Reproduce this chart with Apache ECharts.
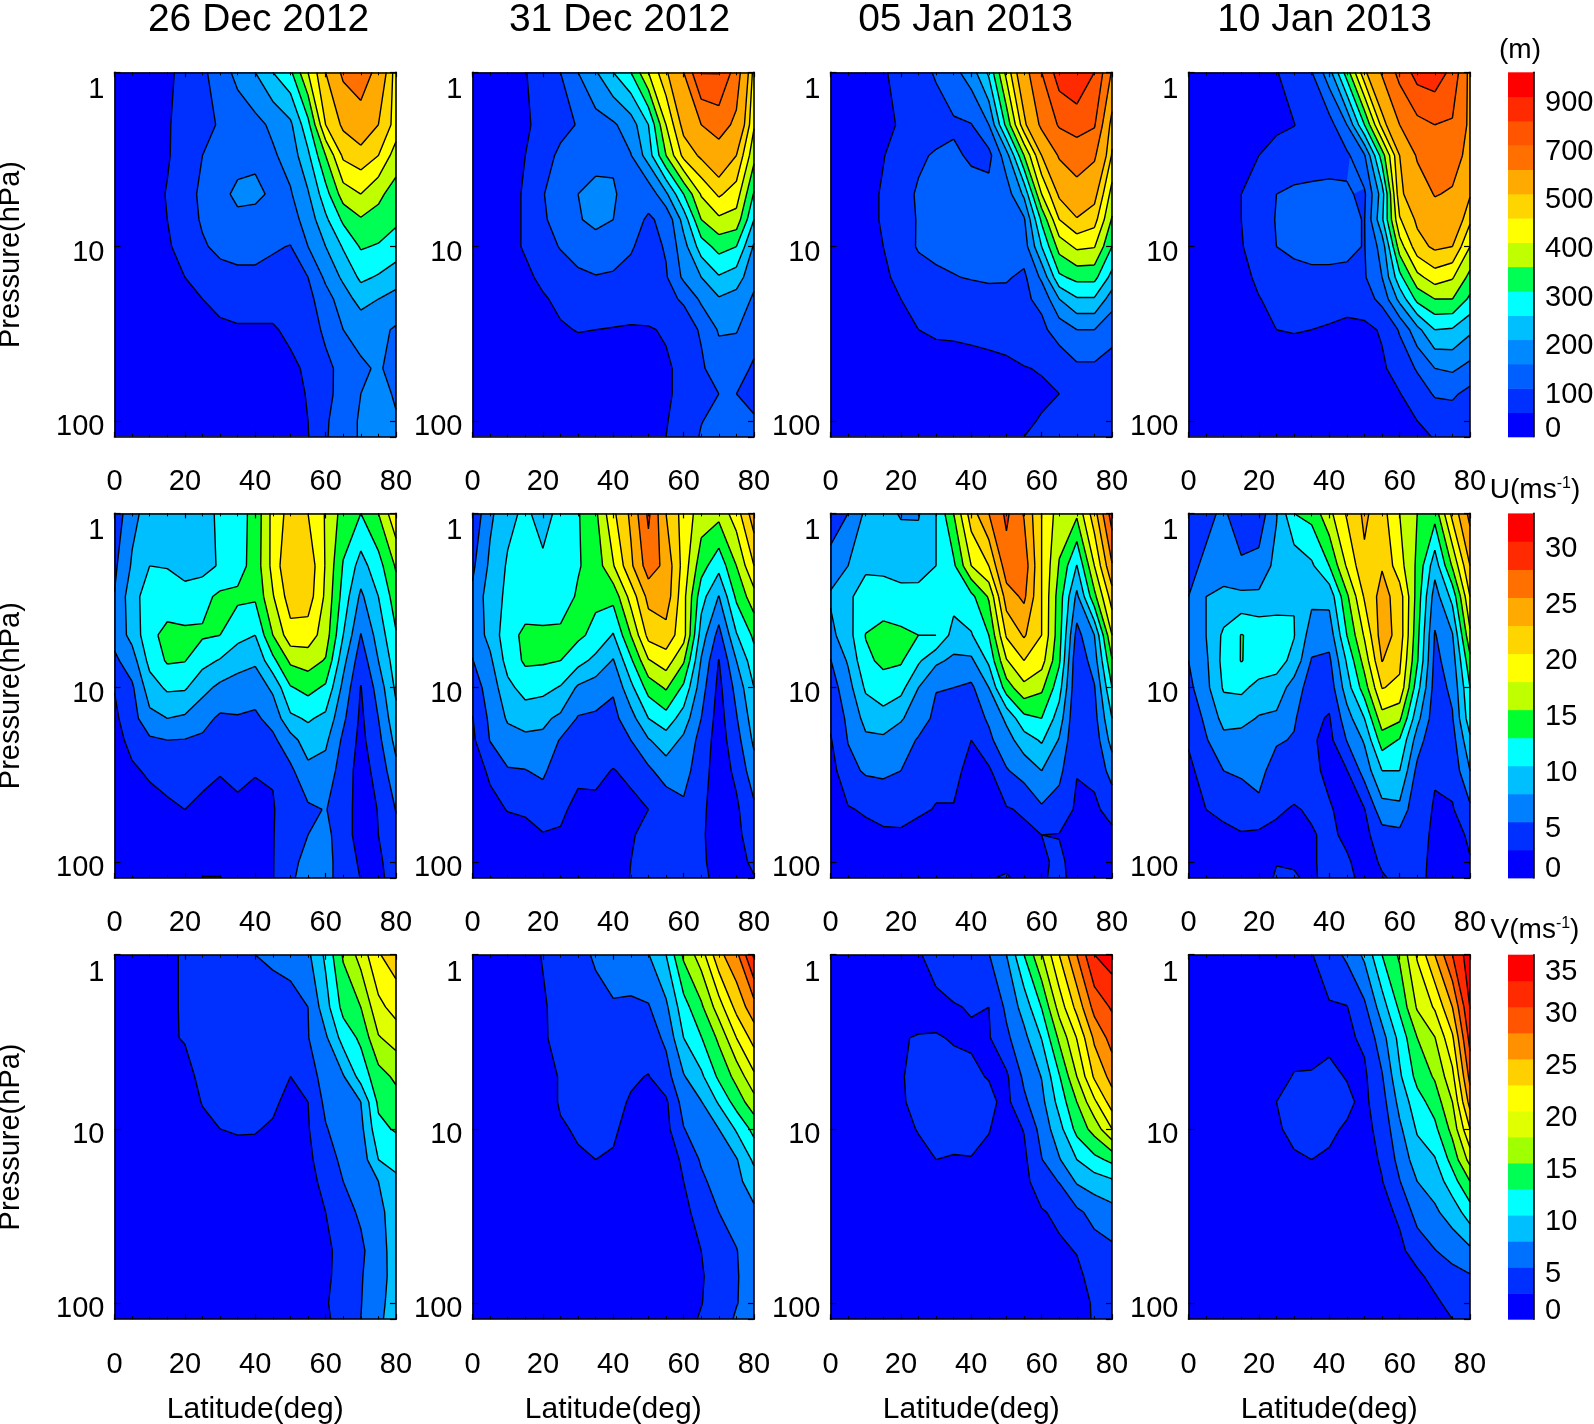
<!DOCTYPE html>
<html><head><meta charset="utf-8"><style>html,body{margin:0;padding:0;background:#fff}#c{width:1594px;height:1424px}</style>
<script src="https://cdn.jsdelivr.net/npm/echarts@6/dist/echarts.min.js"></script></head><body><div id="c"></div>
<script>
const latitudes=[0,5,10,15,20,25,30,35,40,45,50,55,60,65,70,75,80];
const pressures=[1,2,3,5,7,10,15,20,30,50,70,100,123.5];
const dates=['26 Dec 2012','31 Dec 2012','05 Jan 2013','10 Jan 2013'];
const heightLevels=[0,50,100,150,200,250,300,350,400,450,500,600,700,800,900];
const windULevels=[0,2.5,5,7.5,10,12.5,15,17.5,20,22.5,25,27.5,30];
const windVLevels=[0,2.5,5,7.5,10,12.5,15,17.5,20,22.5,25,27.5,30,32.5];
const heightColors=['#0000ff','#0030ff','#0060ff','#0088ff','#00bfff','#00ffff','#00ff55','#c0ff00','#ffff00','#ffd500','#ffaa00','#ff7000','#ff5500','#ff2a00','#ff0000'];
const windUColors=['#0000ff','#0030ff','#0080ff','#00bfff','#00ffff','#00ff30','#c0ff00','#ffff00','#ffd500','#ffaa00','#ff7000','#ff2a00','#ff0000'];
const windVColors=['#0000ff','#0030ff','#0070ff','#00bfff','#00ffff','#00ff55','#a0ff00','#e0ff00','#ffff00','#ffd000','#ff9000','#ff5500','#ff2a00','#ff0000'];
const heightTicks=[[0,'0'],[2,'100'],[4,'200'],[6,'300'],[8,'400'],[10,'500'],[12,'700'],[14,'900']];
const windUTicks=[[0,'0'],[2,'5'],[4,'10'],[6,'15'],[8,'20'],[10,'25'],[12,'30']];
const windVTicks=[[0,'0'],[2,'5'],[4,'10'],[6,'15'],[8,'20'],[10,'25'],[12,'30'],[14,'35']];

// rows: one per pressure, columns: one per latitude
const height26Dec=[
[15,20,25,40,65,90,125,165,200,250,290,400,500,620,670,560,425],
[15,20,30,45,70,85,105,120,135,160,190,285,450,510,540,500,430],
[15,20,30,45,75,100,110,125,138,143,170,240,350,460,480,450,375],
[15,20,30,53,80,110,130,165,163,140,145,195,280,375,400,360,330],
[15,20,30,50,80,105,125,135,130,120,130,170,240,310,345,335,310],
[15,20,30,45,65,95,110,115,115,105,98,150,200,255,305,295,275],
[10,15,25,35,50,70,85,90,90,85,80,100,160,210,260,245,225],
[5,10,15,25,35,50,65,70,70,70,70,85,130,175,220,200,180],
[5,5,10,15,25,35,40,45,45,45,60,75,110,150,165,160,145],
[3,3,5,5,10,15,20,25,28,33,40,58,88,115,143,155,135],
[3,3,3,5,8,10,15,20,23,28,35,53,85,120,150,170,143],
[3,3,3,5,5,10,10,15,20,25,30,50,93,130,155,165,155],
[3,3,3,3,5,8,10,13,18,23,30,48,95,130,155,165,160]];
const height31Dec=[
[15,20,30,48,70,100,150,195,250,300,400,490,600,805,805,650,430],
[15,20,30,43,65,85,103,130,143,175,250,400,520,600,640,580,405],
[15,20,30,50,80,110,120,135,143,148,225,350,465,510,555,500,365],
[15,20,35,55,98,120,150,163,155,130,115,190,300,405,458,425,295],
[15,20,35,55,95,115,145,165,150,115,95,110,220,350,390,380,250],
[15,20,35,55,80,103,115,125,120,105,80,105,180,275,318,300,193],
[10,15,25,40,60,75,93,98,95,85,75,95,160,200,245,225,163],
[5,10,20,30,45,60,70,73,73,75,78,90,105,160,195,180,143],
[5,8,15,23,35,45,52,50,48,45,46,55,80,105,155,153,120],
[3,3,5,8,13,20,25,28,30,33,35,43,63,93,125,120,93],
[3,3,3,5,8,10,13,15,18,23,30,43,63,83,100,100,85],
[3,3,3,3,5,8,10,13,15,20,30,48,65,98,115,120,105],
[3,3,3,3,5,5,8,10,13,20,35,50,70,105,125,125,110]];
const height05Jan=[
[15,20,30,45,65,83,105,135,175,260,415,560,700,850,900,800,590],
[15,20,30,43,53,65,80,93,98,150,315,483,620,710,735,710,470],
[15,20,30,48,70,93,105,108,93,85,178,350,500,610,650,615,445],
[15,20,35,55,85,105,115,118,118,118,125,210,400,510,560,520,380],
[15,20,35,55,83,103,113,118,118,118,120,143,310,450,495,470,345],
[15,20,33,50,75,105,110,115,115,110,110,125,250,370,410,403,300],
[10,15,25,43,60,78,93,98,103,108,105,90,160,290,315,315,233],
[5,10,20,35,50,63,73,75,78,80,85,93,110,200,245,245,175],
[5,8,15,23,38,50,55,55,58,63,70,80,90,120,150,150,113],
[5,5,10,15,23,30,35,38,38,38,40,48,53,70,90,90,85],
[3,5,5,10,15,20,23,25,25,25,30,35,43,50,70,75,73],
[3,3,5,8,10,13,15,20,20,23,25,43,53,60,68,70,65],
[3,3,3,5,8,10,13,15,15,20,43,50,55,60,65,68,63]];
const height10Jan=[
[10,15,20,28,38,48,70,98,180,325,485,610,730,840,860,770,570],
[8,13,18,25,35,43,49,65,80,150,300,468,600,670,700,690,580],
[8,13,20,33,50,63,68,73,80,90,145,325,500,610,650,640,570],
[10,15,25,50,75,100,110,113,113,105,92,225,485,550,605,590,505],
[10,15,25,50,73,103,110,115,115,110,98,240,445,510,560,560,460],
[10,15,25,48,65,100,108,110,110,110,98,170,375,480,510,500,400],
[5,10,18,35,60,75,88,93,93,90,95,150,284,385,425,405,335],
[5,8,15,25,48,63,75,80,80,75,78,115,215,315,350,350,290],
[3,5,10,18,35,50,53,50,43,33,38,55,105,185,250,245,210],
[3,3,5,8,13,20,23,23,20,18,20,43,70,105,150,158,135],
[3,3,3,5,8,10,13,13,13,13,15,30,48,75,105,108,85],
[3,3,3,3,5,5,8,8,8,10,13,20,35,50,70,75,65],
[3,3,3,3,3,5,5,5,8,8,10,15,25,38,53,58,60]];
const windU26Dec=[
[3.3,6.8,8.5,8.3,8,9,10.5,11.5,13.3,18.3,21,20,17.3,14,12.5,15,19.5],
[4.5,7.8,10,9.9,9,9,10.3,11.5,13.5,18.3,22.5,21.8,17.3,12.3,9,11.5,15.3],
[5.1,9,11.3,11,11,11.8,13,13,12.9,17.3,21.3,21.3,17,11.5,7,10,13.8],
[5.8,8.3,11.8,13.3,13,12.8,12.5,10.8,10,15,19,18.8,16.3,10,4.9,8.5,12.3],
[4.5,6.3,10.8,12.8,12.6,10.8,9.8,8.4,7.9,11.8,15.5,16.1,14.8,8.3,3.5,7.5,11.3],
[2.6,4.6,8.8,10.4,10.3,8.3,6.9,6.5,6,8,12.3,13.3,12.1,6.8,2.4,6,10.5],
[2,4,6.8,7.5,7.1,5.8,4.6,4.8,4.6,5.8,9.5,10.3,9.4,5.5,2,5,9.3],
[1.5,3.3,4.6,5,4.9,4.6,4.1,4.1,3.8,4.5,6.5,8.8,8,4.5,1.8,4.3,8.3],
[1,2.1,2.9,3.5,3.5,3.1,2.6,3,2.6,2.6,4.5,6.8,6.5,3.8,1.5,3.3,6.8],
[.5,1,1.5,2,2.5,2,1.9,2.1,2,2.4,3.3,4.6,5.1,3.8,1.3,2.6,5.1],
[.4,.8,1,1.3,1.8,1.5,1.5,1.8,1.5,2.4,3.8,5,5.5,4,1.1,2.5,4.5],
[.3,.6,.8,1,1.3,1.5,1.5,1.5,1.3,2.4,4.3,5.8,5.5,4.3,2,2,4],
[.3,.5,.8,.9,1,2.6,2.6,1.4,1.1,2.4,4.5,6.3,5.5,4.3,2.4,1.8,3.8]];
// rows: one per latitude, columns: one per pressure
const windU31Dec=[
[3,4.5,5.5,5.8,4.9,3.8,2.4,2,1.3,.8,.5,.3,.3],
[7,8,8.8,8.3,7,6,5.5,5.1,2.9,1.8,1,.8,.5],
[9.3,10.3,10.5,11.5,11,9.3,7.8,6.5,4.8,2.6,1.5,1,.8],
[10.5,10.8,11,13.1,12.9,11,8.5,6.9,4.9,2.8,1.8,1.3,1],
[9,10.5,11.3,12.9,12.8,10.8,8,7,5.5,3.3,2.4,1.8,1.5],
[10.8,10.8,11.3,13,12.5,9.8,7,4.8,3.3,2.9,2.3,2.4,2.3],
[12.3,12.3,12.8,13,10.9,7.1,4.8,4.3,3,1.9,1.3,1.1,1.8],
[14.5,13.5,13,11.8,9.3,6.3,4.6,3.8,3,2,1.5,1.1,1],
[19.5,17.3,13.3,9.8,7.3,5.3,4.3,3.6,2.4,1.5,1,.8,1.3],
[23,22,18.5,15,12,9.3,6.5,5,3,1.9,2.4,2.5,2.6],
[28,26.3,23.3,20.8,17.3,13.5,10,7.3,4.5,2.5,2.8,2.6,2.6],
[22.5,24.3,24,21.5,18.8,15.3,11.5,8.8,6.3,3.1,2.8,2.8,2.8],
[19,19,18.3,18.5,15.3,12,8.8,7,6,4.5,3.8,3,2.9],
[16.3,13.5,11,8.8,7.3,6.1,5,4.1,3.5,3,2.8,2.8,2.9],
[15.8,10.8,7.4,4.1,2.4,1.8,1.4,1.3,1.3,1.3,1.5,1.8,2],
[18.8,15,13,9.8,7.5,5.8,4.8,4,3,2.1,1.9,1.8,1.8],
[24,20,16.5,13,11.5,10,8.8,8,6.5,4.5,3.8,2.9,2.4]];
const windU05Jan=[
[3,6.3,7.8,6.8,4.9,3.8,3,2.3,1.5,1,.5,.3,.3],
[5,7.5,9.8,9,7.8,6.5,5.5,5.1,4.3,2.3,1.4,.8,.5],
[8,9.8,10.5,12.6,12,10.4,8.3,7,5.3,2.8,1.8,1,.8],
[8.3,9.6,10.8,13.5,13,11.5,9,7,5.4,3.5,2,1.3,1],
[7.3,9,10.8,13,12.8,10.8,7.8,6,5,3,2.3,1.5,1],
[7.3,8.8,11,12.5,10.4,7.5,6,4.8,3.8,2.8,1.8,1.3,1],
[10,10,11,12.5,8,5.1,4.5,3.8,3,2.4,1.8,1.3,1],
[15,12,11,9,7,5,4.1,3.5,3,2.4,1.8,1.3,1],
[21.3,17.5,11.8,9.8,7,4.5,3.9,2.5,1.9,1.3,.9,.8,.8],
[25,20,15.3,12.5,10.5,7.5,5.3,4.5,2.1,1.5,1.3,1.1,2.3],
[28,26.5,23.8,20.3,17.3,13.8,8,6.5,4.8,2.3,1.6,1.8,2.8],
[24.8,26.5,25.5,22.8,20,16.8,11.8,8.8,6,2.8,2,1.5,1.5],
[20,20,20,20,18.5,15.5,12.5,10.3,7.5,4.6,2.5,2.1,2.1],
[16.3,14.8,13.8,13.5,12.9,11,8.8,7.3,5.6,4,2.4,3,3.3],
[15.5,9.9,6.9,4.1,2.9,2.8,2.6,2.6,2.6,2.1,1.8,1.5,1.3],
[21.5,17.5,14.3,7.5,6.3,4.8,4.1,3.5,3,2.1,1.5,1.3,1.3],
[28.8,24.8,21.3,17.5,14.8,12.5,10,8.5,6,3.3,2,1.3,1.1]];
const windU10Jan=[
[2.8,4.3,5,6,5,4.3,3.3,2.8,1.8,1,.5,.3,.1],
[4.3,5.5,7.5,7.5,7.1,6.8,5.5,4.8,3.8,2.5,1.5,.8,.5],
[5.5,6.5,8,10.5,10.8,10.3,8.3,6.8,5,3,2,1.1,.8],
[3,5.5,8,12.6,12.6,10.5,8.3,6.5,5.3,3.8,2.3,1.4,1],
[3.5,5.8,8,11.8,11.5,9.3,7.3,6.5,5.8,4.4,2,1.5,1.3],
[7.3,8.3,8.8,11.3,11,9,7,5.3,3.8,2.8,2,2.4,2.8],
[12.5,8.3,9.9,10.1,9.3,6.3,5.3,4.8,3.8,2.3,1.5,2.4,2.6],
[13.3,9.6,8.1,6.3,4.8,3.8,3,2.8,3,2.8,2.3,2.3,2.3],
[16.8,12.5,8.3,6,4.5,3.5,2.3,1.8,2,2.7,3,3,2.9],
[20.3,17.8,14.5,12.5,10.3,8.8,6.4,5.1,2.4,1.8,2,2.8,3],
[23,22,20.3,17.8,16,13.8,10,7.8,6,2.4,1.8,1.5,1.9],
[21,22.3,23.5,23.8,22.6,20.1,16.5,13.8,10,6.5,4,2.8,2.3],
[17.5,18.5,21.3,21.5,20.5,19.5,15.5,12.3,10,6.8,4.3,3.3,3],
[15,14.5,14,13.3,12.8,11,8.3,6.3,4.3,3,3.3,3.1,3],
[13.5,8.5,6.3,4.8,4.3,3.9,3.5,2.8,2.6,2.4,2.1,2,2],
[20.8,15.3,10.8,7.3,6.3,5.5,4.8,4,3.3,2.3,1.8,1.3,1],
[25.8,22.5,20,17,14.3,12.5,11.5,9.5,7.5,4.5,2.8,2.4,2]];
const windV26Dec=[
[.8,.8,.8,.8,.8,.5,.5,.5,.3,.3,.3,.3,.3],
[1,1,1,1,.8,.8,.5,.5,.3,.3,.3,.3,.3],
[1.3,1.3,1.3,1.3,1,.8,.8,.5,.3,.3,.3,.3,.3],
[2,2,2.3,1.5,1.3,1,.8,.6,.5,.3,.3,.3,.3],
[2.8,2.8,2.6,2,1.5,1.3,1,.8,.5,.3,.3,.3,.3],
[3.5,3.3,3.1,2.9,2.6,2,1.5,1.3,.8,.5,.3,.3,.3],
[3.8,3.3,3.3,3.3,3,2.5,2,1.5,1,.8,.5,.3,.3],
[4,3.5,3.5,3.5,3.1,2.6,2.1,1.6,1,.8,.5,.3,.3],
[5,3.8,3.8,3.5,3.3,2.6,2,1.5,1,.8,.5,.3,.3],
[5.5,3.8,3.5,3.3,2.8,2.3,1.8,1.3,.8,.5,.4,.3,.3],
[6,4,3.8,2.5,2,1.5,1.3,1,.8,.5,.4,.3,.3],
[7,5,4.9,3.5,2.5,2.3,1.9,1.6,1.3,1,.8,.6,.6],
[10.5,9,7.1,6.3,5.6,4.8,4,3.3,2.5,2,2.1,2.3,2.1],
[15.3,13.3,11,7.3,6.8,6.3,5.5,5,4.3,3.3,3.3,3.5,3.5],
[18.5,15,13,11,7.5,6.8,6,5.5,5.3,4.6,4.8,4.9,5],
[22.3,19.3,17.3,14,13,11.8,10,7.5,6.5,6.3,6.5,7,7.3],
[23.8,21,18.5,15.5,14,12.8,10.3,9.8,9.3,8.8,8.5,8.3,8]];
const windV31Dec=[
[.8,.8,.8,.8,.8,.5,.5,.5,.3,.3,.3,.3,.3],
[1,1,1,1,.8,.8,.5,.5,.3,.3,.3,.3,.3],
[1.3,1.3,1.3,1.3,1,.8,.8,.5,.3,.3,.3,.3,.3],
[1.8,1.8,1.8,1.5,1.3,1,.8,.6,.5,.3,.3,.3,.3],
[2.6,2.3,2.3,2,2,1.8,1.3,1,.5,.3,.3,.3,.3],
[3.5,3.1,3,2.6,2.6,2.4,2,1.5,1,.8,.5,.3,.3],
[4.3,3.8,3.5,3.3,3,2.6,2.4,1.8,1.3,.8,.5,.3,.3],
[5.3,4.3,4,3.5,3.3,2.9,2.5,2,1.3,.8,.5,.3,.3],
[6,4.8,4.1,3.5,3.1,2.8,2.3,1.8,1.3,.8,.5,.3,.3],
[6.8,4.5,3.8,2.8,2.3,1.8,1.3,1,.8,.5,.4,.3,.3],
[7.4,4.8,3.8,2.4,1.8,1.3,1,.8,.5,.5,.4,.3,.3],
[10,7,5.5,4,2.1,1.8,1.3,1,.8,.5,.5,.5,.5],
[15.5,11.5,10,7.3,6,4.9,2.9,2.5,1.9,1.5,1.4,1.4,1.5],
[18.8,14.5,12.4,9.5,7.4,6.3,5.3,4.5,3.4,2.5,2.3,2.4,2.8],
[24.3,18.8,15.5,13,10.3,7.5,6.5,6,5,3.8,3.5,3.8,3.8],
[26.8,23.3,20,15.8,13.6,10.3,7.3,6.8,6,4.9,4.8,4.9,5.3],
[33,26.5,23.5,19.5,16.5,13.3,10.5,8.8,7,6.5,6.3,6,6]];
const windV05Jan=[
[.5,.5,.5,.5,.5,.5,.3,.3,.3,.3,.3,.3,.3],
[.8,.8,.8,.8,.5,.5,.5,.3,.3,.3,.3,.3,.3],
[1,1,1,1,.8,.8,.5,.5,.3,.3,.3,.3,.3],
[1.5,1.5,1.5,1.5,1.3,1,.8,.5,.3,.3,.3,.3,.3],
[2,1.8,2.4,2.4,2.3,2,1.5,1,.5,.3,.3,.3,.3],
[2.3,1.8,2.6,2.9,3,2.6,2,1.3,.8,.3,.3,.3,.3],
[3.3,2,2.6,3,3.3,3,2.5,1.8,1,.5,.3,.3,.3],
[3.5,2.4,2.4,2.9,3.1,3,2.4,1.8,1,.5,.3,.3,.3],
[3.8,2.6,2.3,2.8,3.1,3.3,2.4,1.8,1,.5,.3,.3,.3],
[4.9,2.5,2.3,2.4,3,2.6,2,1.3,.8,.5,.3,.3,.3],
[7.5,5.5,4.5,2.1,1.9,1.5,1.3,1,.8,.5,.3,.3,.3],
[12.5,8.5,6.8,5.5,4.5,2.6,2,1.8,1,.8,.5,.4,.4],
[17.3,12.6,10.1,7.6,6.8,5.9,4.9,3.9,2.3,1.5,1,.8,.8],
[22.5,18.5,15.5,12.3,10.9,9.1,7.3,5.1,3,2.1,1.5,1.1,1],
[27.5,23.3,20.1,17.5,15,13.3,10,7.8,4.5,2.6,2,1.5,1.3],
[32.5,28.4,25.5,22.9,19.5,16,11.8,8.8,5.8,4,3.3,2.8,2.8],
[33.8,30.3,28.5,25.9,23.8,20,13.1,9.6,6.6,4.5,4,3.5,3.3]];
const windV10Jan=[
[.3,.3,.3,.3,.3,.3,.3,.3,.3,.3,.3,.3,.3],
[.5,.5,.5,.5,.5,.3,.3,.3,.3,.3,.3,.3,.3],
[.8,.8,.8,.8,.5,.5,.5,.3,.3,.3,.3,.3,.3],
[.8,1,1,1,1,.8,.5,.5,.3,.3,.3,.3,.3],
[1,1.3,1.3,1.5,1.5,1.3,.8,.5,.3,.3,.3,.3,.3],
[1.3,1.5,1.5,1.9,2.5,2.3,1.8,1,.5,.3,.3,.3,.3],
[1.8,1.8,1.8,2.6,3,2.9,2.3,1.3,.8,.5,.3,.3,.3],
[2.4,2,2,2.6,3.1,3,2.5,1.5,1,.5,.3,.3,.3],
[3.8,2.3,2.1,2.9,3.1,2.8,2.3,1.5,1,.5,.3,.3,.3],
[5.5,2.4,2.1,2.4,2.9,2.3,1.8,1.3,.8,.5,.3,.3,.3],
[8,4.5,2.9,2.1,2,1.8,1.5,1.3,.8,.5,.4,.3,.3],
[12.5,8.8,6.5,4.8,4,3.3,2.8,2.4,1.8,1.3,.8,.5,.4],
[15.4,13,10.8,9.6,8.3,7,5.8,4.9,2.9,2,1.5,1,.8],
[20.3,17.8,15,13.3,11.5,10.3,8.8,7.5,6,3.5,2,1.5,1.3],
[25,20.3,17.4,15.3,13.6,11.9,9.8,8.5,7.1,4.9,3.3,2,1.8],
[30,25,22.1,19.3,17.5,15.8,13.4,11.4,8.6,6,4.1,3.3,2.5],
[34,32.6,30.9,28.3,26,22.5,18.4,15,11.3,7,4.8,3.8,3.5]];

const byLatitude=g=>pressures.map((_,j)=>g.map(c=>c[j]));
const variables=[
 {levels:heightLevels,colors:heightColors,ticks:heightTicks,panels:[height26Dec,height31Dec,height05Jan,height10Jan]},
 {levels:windULevels,colors:windUColors,ticks:windUTicks,panels:[windU26Dec,byLatitude(windU31Dec),byLatitude(windU05Jan),byLatitude(windU10Jan)]},
 {levels:windVLevels,colors:windVColors,ticks:windVTicks,panels:[byLatitude(windV26Dec),byLatitude(windV31Dec),byLatitude(windV05Jan),byLatitude(windV10Jan)]}
];
const colLeft=[114.5,472.5,830.5,1188.5], rowTop=[72.3,513.4,954.7], plotW=281.5, plotH=364.5;
const barLeft=1508, barW=26;
const FONT='Liberation Sans';
const titleCx=[253.5,614.5,960.5,1319.5];

function fillPath(z,level,pts){
  let d='';
  for(let j=0;j<z.length-1;j++)for(let i=0;i<z[0].length-1;i++){
    const c=[[j,i],[j,i+1],[j+1,i+1],[j+1,i]];const poly=[];
    for(let k=0;k<4;k++){
      const a=c[k],b=c[(k+1)%4],va=z[a[0]][a[1]],vb=z[b[0]][b[1]],pa=pts[a[0]][a[1]],pb=pts[b[0]][b[1]];
      if(va>=level)poly.push(pa);
      if((va>=level)!==(vb>=level)){const t=(level-va)/(vb-va);poly.push([pa[0]+t*(pb[0]-pa[0]),pa[1]+t*(pb[1]-pa[1])]);}
    }
    if(poly.length>2)d+='M'+poly.map(p=>p[0].toFixed(2)+' '+p[1].toFixed(2)).join('L')+'Z';
  }
  return d;
}
function linePath(z,level,pts){
  let d='';
  for(let j=0;j<z.length-1;j++)for(let i=0;i<z[0].length-1;i++){
    const c=[[j,i],[j,i+1],[j+1,i+1],[j+1,i]];const x=[];
    for(let k=0;k<4;k++){
      const a=c[k],b=c[(k+1)%4],va=z[a[0]][a[1]],vb=z[b[0]][b[1]],pa=pts[a[0]][a[1]],pb=pts[b[0]][b[1]];
      if((va>=level)!==(vb>=level)){const t=(level-va)/(vb-va);x.push([pa[0]+t*(pb[0]-pa[0]),pa[1]+t*(pb[1]-pa[1])]);}
    }
    for(let s=0;s+1<x.length;s+=2)d+='M'+x[s][0].toFixed(2)+' '+x[s][1].toFixed(2)+'L'+x[s+1][0].toFixed(2)+' '+x[s+1][1].toFixed(2);
  }
  return d;
}

const grid=[],xAxis=[],yAxis=[],series=[];
const black={color:'#000',width:1.6};
variables.forEach((v,r)=>{
  v.panels.forEach((z,c)=>{
    const g=grid.length;
    grid.push({left:colLeft[c],top:rowTop[r],width:plotW,height:plotH,outerBoundsMode:'none'});
    const xBase={type:'value',gridIndex:g,min:0,max:80,interval:20,z:5,axisLine:{onZero:false,lineStyle:black},
      axisTick:{inside:true,length:5,lineStyle:{color:'#000',width:1.2}},minorTick:{show:true,splitNumber:4,length:3,lineStyle:{color:'#000',width:1}},splitLine:{show:false},minorSplitLine:{show:false}};
    const yBase={type:'log',logBase:10,gridIndex:g,min:1,max:123.5,inverse:true,z:5,axisLine:{onZero:false,lineStyle:black},
      axisTick:{inside:true,length:6,lineStyle:{color:'#000',width:1.2}},minorTick:{show:false},splitLine:{show:false},minorSplitLine:{show:false}};
    const xi=xAxis.length, yi=yAxis.length;
    xAxis.push(Object.assign({},xBase,{position:'bottom',
      axisLabel:{fontFamily:FONT,fontSize:29,color:'#000',margin:31,hideOverlap:false},
      name:r===2?'Latitude(deg)':'',nameLocation:'middle',nameGap:76,nameTextStyle:{fontFamily:FONT,fontSize:30,color:'#000'}}));
    xAxis.push(Object.assign({},xBase,{position:'top',axisLabel:{show:false}}));
    yAxis.push(Object.assign({},yBase,{position:'left',
      axisLabel:{margin:10,hideOverlap:false,showMinLabel:true,showMaxLabel:false,
        formatter:val=>{const n=Math.round(val);return n===1?'{a|1}':(n===10||n===100)&&Math.abs(val-n)<1e-6?'{b|'+n+'}':'';},
        rich:{a:{fontFamily:FONT,fontSize:29,color:'#000',padding:[36,0,0,0]},b:{fontFamily:FONT,fontSize:29,color:'#000',padding:[12,0,0,0]}}},
      name:c===0?'Pressure(hPa)':'',nameLocation:'middle',nameGap:89,nameRotate:90,nameTextStyle:{fontFamily:FONT,fontSize:29,color:'#000'}}));
    yAxis.push(Object.assign({},yBase,{position:'right',axisLabel:{show:false}}));
    const levels=v.levels,colors=v.colors;
    series.push({type:'custom',xAxisIndex:xi,yAxisIndex:yi,silent:true,animation:false,clip:true,coordinateSystem:'cartesian2d',
      data:levels.map((l,i)=>[i,l]),encode:{x:-1,y:-1},
      renderItem:(params,api)=>{
        const pts=pressures.map(p=>latitudes.map(lat=>api.coord([lat,p])));
        const k=params.dataIndex;
        const kids=[{type:'path',shape:{pathData:fillPath(z,levels[k],pts)},style:{fill:colors[k],stroke:null}}];
        if(k>0)kids.push({type:'path',shape:{pathData:linePath(z,levels[k],pts)},style:{fill:null,stroke:'#000',lineWidth:1.4}});
        return {type:'group',children:kids};
      }});
  });
  // colour bar
  const g=grid.length, n=v.colors.length;
  grid.push({left:barLeft,top:rowTop[r],width:barW,height:plotH,outerBoundsMode:'none'});
  xAxis.push({type:'value',gridIndex:g,min:0,max:1,show:false});
  const tickPos=v.ticks.map(t=>{const idx=t[0];let pos=idx-0.27;if(idx===0)pos=0.33;if(idx===n)pos=n-0.65;return pos;});
  const tickText=v.ticks.map(t=>t[1]);
  yAxis.push({type:'value',gridIndex:g,min:0,max:n,position:'right',z:5,axisLine:{show:true,onZero:false,lineStyle:black},axisTick:{show:false},splitLine:{show:false},
    axisLabel:{customValues:tickPos,margin:11,fontFamily:FONT,fontSize:29,color:'#000',hideOverlap:false,showMinLabel:true,showMaxLabel:true,
      formatter:val=>{const i=tickPos.findIndex(p=>Math.abs(p-val)<1e-6);return i<0?'':tickText[i];}}});
  series.push({type:'custom',xAxisIndex:xAxis.length-1,yAxisIndex:yAxis.length-1,silent:true,animation:false,coordinateSystem:'cartesian2d',
    data:v.colors.map((col,i)=>[i,col]),encode:{x:-1,y:-1},
    renderItem:(params,api)=>{
      const i=params.dataIndex;const a=api.coord([0,i+1]),b=api.coord([1,i]);
      return {type:'rect',shape:{x:a[0],y:a[1],width:b[0]-a[0],height:b[1]-a[1]+0.5},style:{fill:v.colors[i]}};
    }});
});

const title=dates.map((d,i)=>({text:d,left:titleCx[i],top:-4,textAlign:'center',textStyle:{fontFamily:FONT,fontSize:39,fontWeight:'normal',color:'#000'}}));
const unitStyle={fontFamily:FONT,fontSize:28,fontWeight:'normal',color:'#000',rich:{a:{fontFamily:FONT,fontSize:28,color:'#000'},s:{fontFamily:FONT,fontSize:16,color:'#000',padding:[0,0,12,0]}}};
title.push({text:'(m)',left:1515,top:31,textAlign:'center',textStyle:unitStyle});
title.push({text:'{a|U(ms}{s|-1}{a|)}',left:1530,top:471,textAlign:'center',textStyle:unitStyle});
title.push({text:'{a|V(ms}{s|-1}{a|)}',left:1530,top:911,textAlign:'center',textStyle:unitStyle});

const chart=echarts.init(document.getElementById('c'),null,{renderer:'canvas',width:1594,height:1424});
chart.setOption({animation:false,backgroundColor:'#fff',textStyle:{fontFamily:FONT},title,grid,xAxis,yAxis,series});
</script></body></html>
